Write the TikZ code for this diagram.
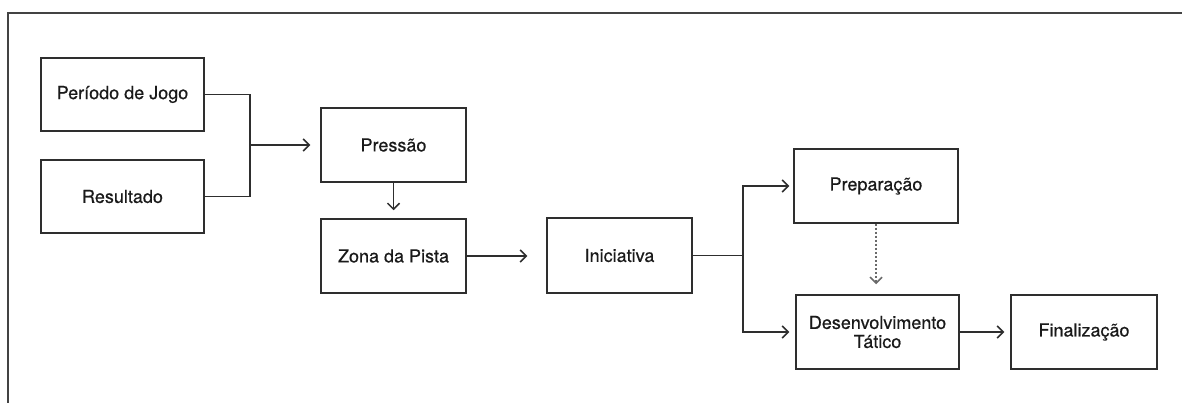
\documentclass[tikz,border=0pt]{standalone}
\usepackage{fontspec}
\setmainfont{TeX Gyre Heros}[RawFeature={embolden=0.5}]
\usetikzlibrary{arrows.meta}
\definecolor{ln}{HTML}{2E2E2E}
\definecolor{tx}{HTML}{1A1A1A}
\definecolor{dt}{HTML}{6A6A6A}
\begin{document}
\begin{tikzpicture}[x=1pt,y=-1pt,
  box/.style={draw=ln, line width=1.5pt, inner sep=2pt, align=center, text=tx,
    font=\fontsize{18}{20}\selectfont},
  conn/.style={draw=ln, line width=1.5pt},
  arr/.style={conn, -{Straight Barb[length=6pt,width=12pt,line width=1.5pt]}},
  dotarr/.style={draw=dt, line width=2pt, dotted, -{Straight Barb[length=6pt,width=12pt,line width=1.6pt,line cap=butt]}}]
\useasboundingbox (0,0) rectangle (1182,403);
\draw[conn, draw=ln!90] (8,403) -- (8,13) -- (1182,13);

\node[box, minimum width=163pt, minimum height=73pt] (per) at (122.5,94.5) {Período de Jogo};
\node[box, minimum width=163pt, minimum height=73pt] (res) at (122.5,196.5) {Resultado};
\node[box, minimum width=145pt, minimum height=74pt] (pre) at (393.5,145) {Pressão};
\node[box, minimum width=145pt, minimum height=74pt] (zon) at (393.5,256) {Zona da Pista};
\node[box, minimum width=145pt, minimum height=75pt] (ini) at (619.5,255.5) {Iniciativa};
\node[box, minimum width=164pt, minimum height=74pt] (prep) at (876,186) {Preparação};
\node[box, minimum width=163pt, minimum height=74pt] (des) at (877.5,332) {Desenvolvimento\\[-1pt]Tático};
\node[box, minimum width=146pt, minimum height=74pt] (fin) at (1084,332) {Finalização};

\coordinate (j1) at (250,145);
\coordinate (j2) at (743,255.5);

\draw[conn] (per.east) -| (j1);
\draw[conn] (res.east) -| (j1);
\draw[arr, shorten >=10pt] (j1) -- (pre.west);
\draw[arr, shorten >=8pt] (pre.south) -- (zon.north);
\draw[arr, shorten >=19pt] (zon.east) -- (zon.east -| ini.west);
\draw[conn] (ini.east) -- (j2);
\draw[arr, shorten >=4pt] (j2) |- (prep.west);
\draw[arr, shorten >=6pt] (j2) |- (des.west);
\draw[dotarr, shorten >=10pt] (prep.south) -- (prep.south |- des.north);
\draw[arr, shorten >=6pt] (des.east) -- (fin.west);
\end{tikzpicture}
\end{document}
